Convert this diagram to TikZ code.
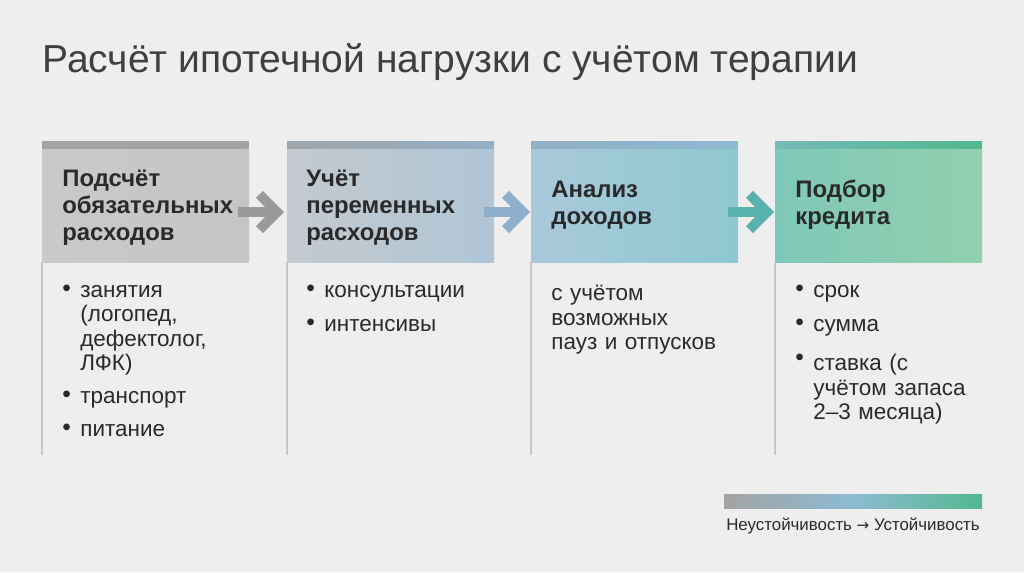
\documentclass[tikz,border=0pt]{standalone}
\usepackage{fontspec}
\setmainfont{Liberation Sans}
\usetikzlibrary{positioning,arrows.meta}
\definecolor{bgc}{HTML}{EEEEEE}
\definecolor{ink}{HTML}{2A2A2A}
\definecolor{gA}{HTML}{C9C9C9}
\definecolor{gB}{HTML}{C4C9CF}
\definecolor{bB}{HTML}{AFC6D6}
\definecolor{bC}{HTML}{A9C9DA}
\definecolor{tC}{HTML}{8FC8D0}
\definecolor{tD}{HTML}{7FC8B8}
\definecolor{gD}{HTML}{92D0AE}
\definecolor{barA}{HTML}{A3A3A3}
\definecolor{barB}{HTML}{93AFC6}
\definecolor{barC}{HTML}{8DBBD2}
\definecolor{barD}{HTML}{52B88E}
\definecolor{arA}{HTML}{9A9A9A}
\definecolor{arB}{HTML}{8FB0CC}
\definecolor{arC}{HTML}{5AB2AC}
\tikzset{
  head/.style={font=\fontsize{13.6}{15.4}\selectfont\bfseries, text=ink, align=left, anchor=west, inner sep=0},
  body/.style={font=\fontsize{12.8}{13.9}\selectfont, text=ink, align=left, anchor=north west, inner sep=0, text width=#1},
  body/.default=3.2cm,
  bul/.style={font=\fontsize{14}{13.9}\selectfont, text=ink, anchor=north west, inner sep=0},
  flow/.style={line width=5.6pt, -{Straight Barb[length=10pt,width=20pt]}},
  rule/.style={draw=gray!45, line width=0.6pt}
}
\begin{document}
\begin{tikzpicture}[x=0.02cm,y=-0.02cm]
\useasboundingbox[fill=bgc] (0,0) rectangle (1024,572);
\node[font=\fontsize{22.2}{25}\selectfont, text=ink!90, anchor=west, inner sep=0] (title) at (42,62) {Расчёт ипотечной нагрузки с учётом терапии};

% column 1
\fill[barA] (42,141) rectangle (249,149);
\shade[left color=gA, right color=gA!95!gray] (42,149) rectangle (249,262);
\draw[rule] (42,262) -- (42,455);
\node[head] (h1) at (62,208) {Подсчёт\\обязательных\\расходов};
\node[bul] (d11) at (62,285) {•};
\node[body=2.9cm] (t11) at (80,285) {занятия (логопед, дефектолог, ЛФК)};
\node[bul] (d12) at (62,391) {•};
\node[body] (t12) at (80,391) {транспорт};
\node[bul] (d13) at (62,424) {•};
\node[body] (t13) at (80,424) {питание};

% column 2
\fill[left color=barA!80!barB, right color=barB] (287,141) rectangle (494,149);
\shade[left color=gB, right color=bB] (287,149) rectangle (494,262);
\draw[rule] (287,262) -- (287,455);
\node[head] (h2) at (306,208) {Учёт\\переменных\\расходов};
\node[bul] (d21) at (306,285) {•};
\node[body] (t21) at (324,285) {консультации};
\node[bul] (d22) at (306,319) {•};
\node[body] (t22) at (324,319) {интенсивы};

% column 3
\fill[left color=barB, right color=barC] (531,141) rectangle (738,149);
\shade[left color=bC, right color=tC] (531,149) rectangle (738,262);
\draw[rule] (531,262) -- (531,455);
\node[head] (h3) at (551,205) {Анализ\\доходов};
\node[body=3.8cm] (t31) at (551,285) {с учётом\\возможных\\пауз и отпусков};

% column 4
\fill[left color=barC!60!barD, right color=barD] (775,141) rectangle (982,149);
\shade[left color=tD, right color=gD] (775,149) rectangle (982,262);
\draw[rule] (775,262) -- (775,455);
\node[head] (h4) at (795,205) {Подбор\\кредита};
\node[bul] (d41) at (795,285) {•};
\node[body] (t41) at (813,285) {срок};
\node[bul] (d42) at (795,319) {•};
\node[body] (t42) at (813,319) {сумма};
\node[bul] (d43) at (795,354) {•};
\node[body] (t43) at (813,354) {ставка (с\\учётом запаса\\2–3 месяца)};

% arrows between steps
\coordinate (a1s) at (238,212); \coordinate (a1e) at (284,212);
\coordinate (a2s) at (484,212); \coordinate (a2e) at (530,212);
\coordinate (a3s) at (728,212); \coordinate (a3e) at (774,212);
\draw[flow, arA] (a1s) -- (a1e);
\draw[flow, arB] (a2s) -- (a2e);
\draw[flow, arC] (a3s) -- (a3e);

% legend
\shade[left color=barA, right color=barD, middle color=barC] (724,494) rectangle (982,508);
\node[font=\fontsize{9.6}{11}\selectfont, text=ink, anchor=center, inner sep=0] (leg) at (853,526) {Неустойчивость {\fontspec{DejaVu Sans}\fontsize{8.6}{10}\selectfont→} Устойчивость};
\end{tikzpicture}
\end{document}
